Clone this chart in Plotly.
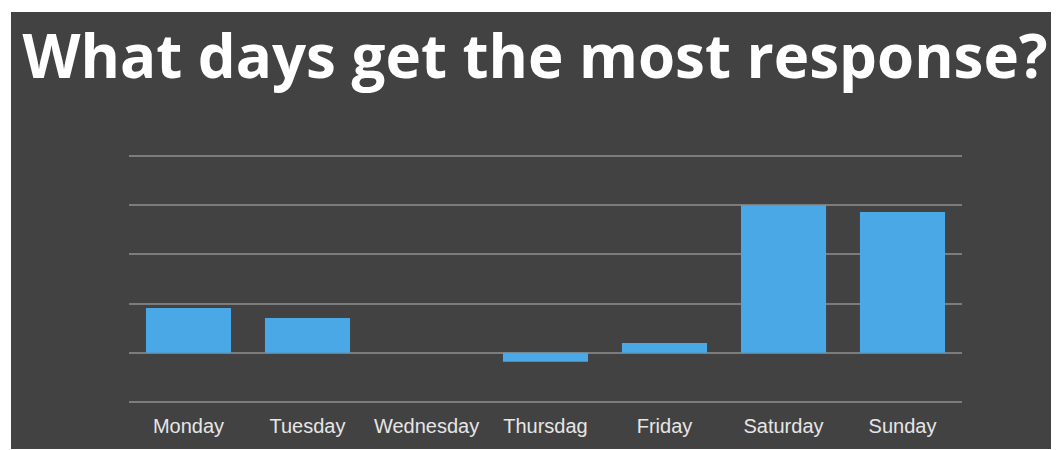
import plotly.graph_objects as go

days = ["Monday", "Tuesday", "Wednesday", "Thursdag", "Friday", "Saturday", "Sunday"]
responses = [0.91, 0.71, 0.0, -0.18, 0.2, 3.0, 2.86]

# page body adds an 8px offset, so the figure is sized to fill the rest of the window
W, H = 1051, 442
L, R, T, B = 121, 97, 146, 46
BG = "#424242"

fig = go.Figure()
fig.add_trace(
    go.Bar(
        x=days,
        y=responses,
        marker=dict(color="#4ba8e6", line=dict(width=0)),
    )
)

pw, ph = W - L - R, H - T - B


def px_to_paper(xp, yp):
    return (xp - L) / pw, (H - B - yp) / ph


# white frame strips around the slide
for (ax, ay, bx, by) in [(0, 0, 3, H), (0, 0, W, 4), (0, 441, W, H)]:
    x0, y0 = px_to_paper(ax, ay)
    x1, y1 = px_to_paper(bx, by)
    fig.add_shape(type="rect", xref="paper", yref="paper", x0=x0, x1=x1, y0=y0, y1=y1,
                  fillcolor="white", line_width=0, layer="above")

fig.update_layout(
    width=W,
    height=H,
    margin=dict(l=L, r=R, t=T, b=B),
    paper_bgcolor=BG,
    plot_bgcolor=BG,
    bargap=0.285,
    showlegend=False,
    title=dict(
        text="<b>What days get the most response?</b>",
        font=dict(family="Open Sans", size=60, color="white"),
        x=(535 - 8) / W,
        xref="container",
        xanchor="center",
        y=1 - 49 / H,
        yanchor="middle",
    ),
)
fig.update_xaxes(
    showgrid=False,
    showline=False,
    ticks="",
    tickfont=dict(family="Liberation Sans", size=20, color="#e6e6e6"),
    ticklabelstandoff=8,
)
fig.update_yaxes(
    range=[-1.04, 4.04],
    dtick=1,
    tick0=0,
    showticklabels=False,
    showgrid=True,
    gridcolor="#7c7c7c",
    gridwidth=2,
    zeroline=True,
    zerolinecolor="#7c7c7c",
    zerolinewidth=2,
)

fig.write_html("out.html")
